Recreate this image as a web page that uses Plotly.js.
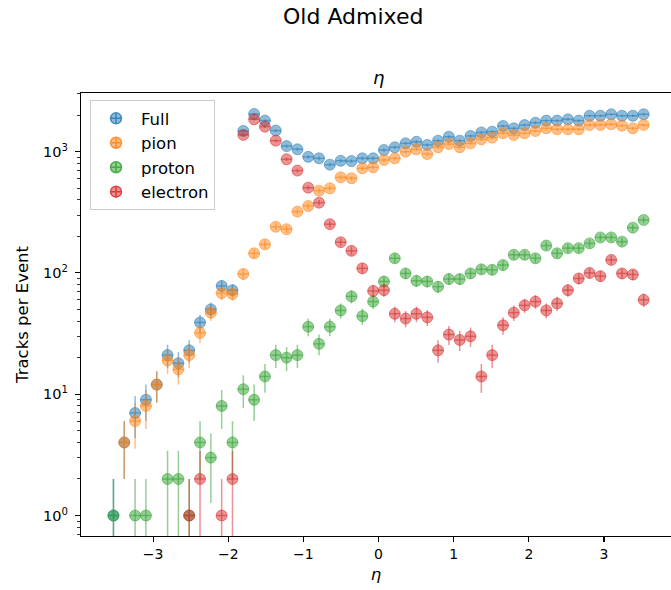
<!DOCTYPE html>
<html>
<head>
<meta charset="utf-8">
<script src="https://cdn.plot.ly/plotly-3.0.1.min.js"></script>
<style>html,body{margin:0;padding:0;background:#fff;}#chart{width:671px;height:590px;}</style>
</head>
<body>
<div id="chart"></div>
<script>
// eta bin centres (bins from -3.6 to 3.6, width 0.144)
var eta = [-3.528,-3.384,-3.240,-3.096,-2.952,-2.808,-2.664,-2.520,-2.376,-2.232,
  -2.088,-1.944,-1.800,-1.656,-1.512,-1.368,-1.224,-1.080,-0.936,-0.792,
  -0.648,-0.504,-0.360,-0.216,-0.072,0.072,0.216,0.360,0.504,0.648,
  0.792,0.936,1.080,1.224,1.368,1.512,1.656,1.800,1.944,2.088,
  2.232,2.376,2.520,2.664,2.808,2.952,3.096,3.240,3.384,3.528];
var binHalfWidth = 0.072;

var full = [1,4,7,9,12,21,18,23,39,50,
  78,72,1480,2040,1800,1490,1110,1045,905,880,
  780,840,835,880,880,1030,1085,1170,1205,1135,
  1230,1325,1230,1345,1440,1460,1625,1555,1655,1730,
  1800,1800,1845,1800,1975,1975,2030,1975,1975,2030];
var pion = [null,4,6,8,12,19,16,21,32,47,
  68,67,98,145,172,240,229,320,356,476,
  498,614,603,728,743,853,880,998,1044,955,
  1085,1155,1085,1170,1262,1303,1416,1371,1416,1479,
  1556,1527,1527,1527,1657,1657,1680,1636,1556,1657];
var proton = [1,null,1,1,null,2,2,1,4,3,
  8,4,11,9,14,21,20,21,36,26,
  36,49,64,44,58,85,132,99,86,85,
  77,89,89,99,107,106,116,141,141,132,
  168,145,160,160,175,196,196,181,236,273];
var electron = [null,null,null,null,null,null,null,1,2,null,
  1,2,1371,1846,1604,1230,864,697,504,379,
  252,179,152,109,71,72,46,42,46,43,
  23,31,28,30,14,21,37,47,54,58,
  49,56,72,90,100,94,128,99,97,60];

var seriesNames = ['Full','pion','proton','electron'];
var seriesValues = [full, pion, proton, electron];
var seriesColors = ['31,119,180','255,127,14','44,160,44','214,39,40'];

var yTickVals = [1,10,100,1000];
var yTickText = ['10<sup>0</sup>','10<sup>1</sup>','10<sup>2</sup>','10<sup>3</sup>'];
var xTickVals = [-3,-2,-1,0,1,2,3];

var minorVals = [];
[0.1,1,10,100,1000].forEach(function(d){
  for (var m=2;m<=9;m++) minorVals.push(m*d);
});

var traces = [];
seriesNames.forEach(function(name,i){
  var c = 'rgba('+seriesColors[i]+',0.5)';
  var vals = seriesValues[i];
  traces.push({
    type:'scatter', mode:'markers', name:name,
    x: eta, y: vals, showlegend:false,
    marker:{size:11, color:c, line:{width:1, color:c}},
    error_y:{type:'data', symmetric:true,
      array: vals.map(function(v){return v==null?null:Math.sqrt(v);}),
      color:c, thickness:1.5, width:0},
    error_x:{type:'constant', value:binHalfWidth, color:c, thickness:1.5, width:0},
    hoverinfo:'x+y+name'
  });
});
// legend entries
seriesNames.forEach(function(name,i){
  var c = 'rgba('+seriesColors[i]+',0.5)';
  traces.push({
    type:'scatter', mode:'markers', name:name, x:[null], y:[null],
    legendgroup:'g'+i,
    marker:{size:11, symbol:'circle-cross', color:c, line:{width:1.5, color:'rgba('+seriesColors[i]+',0.8)'}}
  });
});

var font = 'DejaVu Sans, sans-serif';
var layout = {
  width:671, height:590,
  margin:{l:81, r:0, t:93, b:54},
  paper_bgcolor:'#fff', plot_bgcolor:'#fff',
  font:{family:font, size:14, color:'#000'},
  showlegend:true,
  legend:{x:0.0153, y:0.984, xanchor:'left', yanchor:'top', itemwidth:40,
    bgcolor:'rgba(255,255,255,0.8)', bordercolor:'#cccccc', borderwidth:1,
    font:{family:font, size:16.5, color:'#000'}, tracegroupgap:0, traceorder:'grouped'},
  xaxis:{range:[-3.96,3.892], tickvals:xTickVals, ticks:'outside', ticklen:5, tickwidth:1.1,
    tickcolor:'#000', showline:true, linecolor:'#000', linewidth:1.1, mirror:true,
    showgrid:false, zeroline:false, tickfont:{family:font,size:14,color:'#000'},
    title:{text:'<i>η</i>', font:{family:font,size:16.5,color:'#000'}, standoff:7}},
  yaxis:{type:'log', range:[-0.169,3.483], tickvals:yTickVals, ticktext:yTickText,
    ticks:'outside', ticklen:5, tickwidth:1.1, tickcolor:'#000', ticklabelstandoff:4,
    minor:{tickvals:minorVals, ticks:'outside', ticklen:3, tickwidth:0.8, tickcolor:'#000', showgrid:false},
    showline:true, linecolor:'#000', linewidth:1.1, mirror:false,
    showgrid:false, zeroline:false, tickfont:{family:font,size:14.5,color:'#000'},
    title:{text:'Tracks per Event', font:{family:font,size:16.5,color:'#000'}, standoff:10}},
  annotations:[
    {text:'Old Admixed', xref:'paper', yref:'paper', x:0.4607, y:1.1731,
      xanchor:'center', yanchor:'middle', showarrow:false,
      font:{family:font, size:22, color:'#000'}},
    {text:'<i>η</i>', xref:'paper', yref:'paper', x:0.505, y:1.035,
      xanchor:'center', yanchor:'middle', showarrow:false,
      font:{family:font, size:18, color:'#000'}}
  ]
};

Plotly.newPlot('chart', traces, layout, {displayModeBar:false, staticPlot:true});
</script>
</body>
</html>
